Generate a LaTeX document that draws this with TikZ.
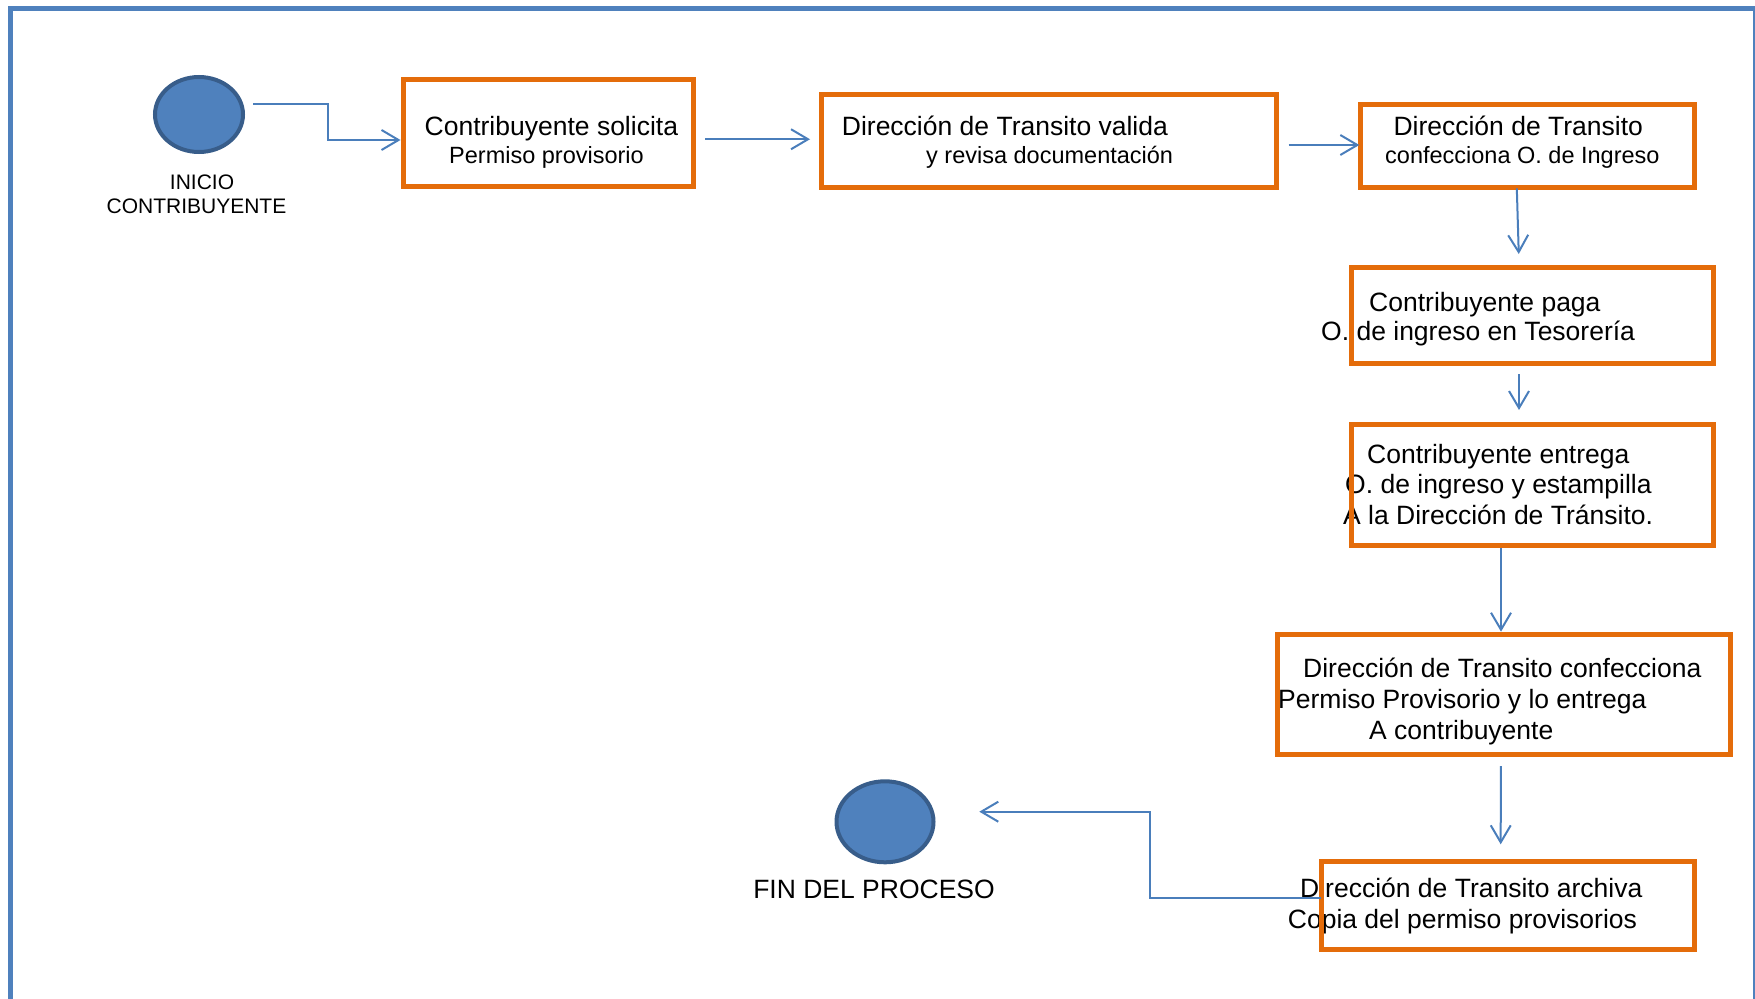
\documentclass[tikz,border=0pt]{standalone}
\usepackage{fontspec}
\setmainfont{Liberation Sans}
\usetikzlibrary{shapes.geometric,arrows.meta}
\definecolor{marco}{HTML}{4F81BD}
\definecolor{relleno}{HTML}{4F81BD}
\definecolor{borde}{HTML}{385D8A}
\definecolor{naranja}{HTML}{E46C0A}
\definecolor{flecha}{HTML}{4A7EBB}
\begin{document}
\begin{tikzpicture}[x=1pt,y=-1pt,
    paso/.style={draw=naranja,line width=5pt,rectangle,inner sep=0pt},
    evento/.style={ellipse,draw=borde,fill=relleno,line width=4pt,inner sep=0pt},
    flujo/.style={draw=flecha,line width=2pt,-{Straight Barb[length=17pt,width=20pt]}},
    texto/.style={anchor=base west,align=left,inner sep=0pt,font=\fontsize{26.5}{28.3}\selectfont}]
    \useasboundingbox (0,0) rectangle (1755,998);
    % marco
    \draw[marco,line width=4.5pt] (10.5,1020) -- (10.5,8.5) -- (1755,8.5) -- (1755,1020);
    % textos (anclados en la linea base de la ultima linea)
    \node[texto] (t_sol) at (424.5,163.3) {Contribuyente solicita\\\hspace*{24.5pt}{\fontsize{23.5}{28.3}\selectfont Permiso provisorio}};
    \node[texto] (t_val) at (841.7,163.3) {Dirección de Transito valida\\\hspace*{84.3pt}{\fontsize{23.5}{28.3}\selectfont y revisa documentación}};
    \node[texto] (t_conf) at (1385,163.3) {\hspace*{8.3pt}Dirección de Transito\\{\fontsize{23.5}{28.3}\selectfont confecciona O. de Ingreso}};
    \node[texto,font=\fontsize{26.5}{29}\selectfont] (t_paga) at (1321,340.7) {\hspace*{48pt}Contribuyente paga\\O. de ingreso en Tesorería};
    \node[texto,font=\fontsize{26.5}{30.4}\selectfont] (t_ent) at (1343,524.1) {\hspace*{24pt}Contribuyente entrega\\\hspace*{2pt}O. de ingreso y estampilla\\A la Dirección de Tránsito.};
    \node[texto,font=\fontsize{26.5}{31}\selectfont] (t_perm) at (1278,739) {\hspace*{25pt}Dirección de Transito confecciona\\Permiso Provisorio y lo entrega\\\hspace*{91pt}A contribuyente};
    \node[texto,font=\fontsize{26.5}{30.6}\selectfont] (t_arch) at (1287.7,928.3) {\hspace*{12.3pt}Dirección de Transito archiva\\Copia del permiso provisorios};
    \node[anchor=base,align=center,inner sep=0pt,font=\fontsize{21}{23.8}\selectfont] (t_inicio) at (196.5,213.3) {\hspace*{11pt}INICIO\\CONTRIBUYENTE};
    \node[anchor=base,inner sep=0pt,font=\fontsize{26.5}{28.3}\selectfont] (t_fin) at (874,898.3) {FIN DEL PROCESO};
    % cajas
    \node[paso,minimum width=290pt,minimum height=107.5pt] (sol) at (548,132.75) {};
    \node[paso,minimum width=455.5pt,minimum height=93.5pt] (val) at (1048.75,140.75) {};
    \node[paso,minimum width=334pt,minimum height=83.3pt] (conf) at (1527.8,145.85) {};
    \node[paso,minimum width=361.7pt,minimum height=96pt] (paga) at (1532.35,315.5) {};
    \node[paso,minimum width=361.7pt,minimum height=121pt] (ent) at (1532.35,484.7) {};
    \node[paso,minimum width=453.3pt,minimum height=120pt] (perm) at (1504.15,694.2) {};
    \node[paso,minimum width=372.7pt,minimum height=87.4pt] (arch) at (1507.85,905.5) {};
    \node[evento,minimum width=88pt,minimum height=75pt] (inicio) at (199,114.5) {};
    \node[evento,minimum width=97pt,minimum height=81pt] (fin) at (885,821.8) {};
    % flechas
    \draw[flujo] ([shift={(8,-11)}]inicio.east) -- ++(75,0) |- ([shift={(0,7.25)}]sol.west);
    \draw[flujo] ([shift={(9.5,6.5)}]sol.east) -- ([shift={(-8.5,-1.5)}]val.west);
    \draw[flujo] ([shift={(9.5,4.25)}]val.east) -- ([shift={(1,-0.85)}]conf.west);
    \draw[flujo] ([shift={(-11,-1.7)}]conf.south) -- ([shift={(-13.6,-11)}]paga.north);
    \draw[flujo] ([shift={(-13.35,8)}]paga.south) -- ([shift={(-13.35,-11.7)}]ent.north);
    \draw[flujo] ([shift={(-31.35,0)}]ent.south) -- ([shift={(-3.15,0)}]perm.north);
    \draw[flujo] ([shift={(-3.35,9.3)}]perm.south) -- ([shift={(-7.15,-15)}]arch.north);
    \draw[flujo] ([shift={(1.5,-7.8)}]arch.west) -- ++(-171,0) |- ([shift={(43.8,-10.1)}]fin.east);
\end{tikzpicture}
\end{document}
